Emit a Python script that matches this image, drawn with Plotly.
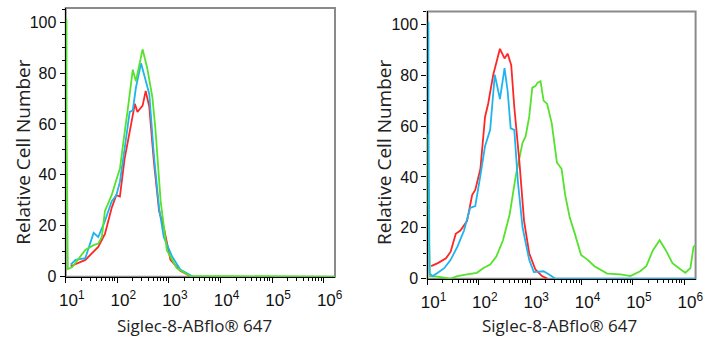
import plotly.graph_objects as go

# ---- data (x as log10 of fluorescence, y = relative cell number) ----
L_red_x = [1.095, 1.38, 1.63, 1.76, 1.89, 1.98, 2.05, 2.14, 2.27, 2.34, 2.39, 2.49, 2.55, 2.62, 2.71, 2.81, 2.90, 3.03, 3.22, 3.41]
L_red_y = [4.1, 6.6, 11.7, 16.8, 27, 32, 31.5, 46.2, 60.2, 67.9, 64.7, 67.2, 73, 66.6, 44.9, 25.8, 19.4, 6.6, 2.3, 0.3]

L_blue_x = [1.095, 1.19, 1.38, 1.54, 1.63, 1.76, 1.89, 1.98, 2.05, 2.14, 2.24, 2.30, 2.36, 2.46, 2.52, 2.62, 2.71, 2.81, 2.90, 3.06, 3.22, 3.47]
L_blue_y = [4.7, 6.6, 7.3, 17.2, 15.6, 21.9, 29.6, 32, 37.2, 50, 64.7, 65.3, 74.2, 83.8, 79.3, 71.7, 47.5, 26.8, 15.6, 8, 2.8, 0]

L_green_x = [1.015, 1.016, 1.04, 1.127, 1.38, 1.54, 1.63, 1.70, 1.76, 1.89, 1.98, 2.05, 2.14, 2.20, 2.30, 2.36, 2.49, 2.58, 2.68, 2.74, 2.84, 2.96, 3.15, 3.41, 6.22]
L_green_y = [101, 60, 3, 3.8, 10.5, 12.4, 13, 15.6, 25.8, 32, 38, 42.4, 56.4, 65.3, 81.3, 76.8, 89.3, 81.9, 70.4, 57.7, 29.6, 10.4, 3.4, 0.3, 0]

R_red_x = [1.07, 1.2, 1.36, 1.45, 1.55, 1.64, 1.77, 1.87, 1.93, 2.03, 2.12, 2.18, 2.28, 2.41, 2.50, 2.56, 2.63, 2.69, 2.79, 2.88, 2.98, 3.10, 3.23, 3.33]
R_red_y = [4.9, 6.1, 8, 10.6, 17.6, 18.9, 22.7, 33, 34.9, 43.2, 63.6, 68.7, 80.2, 90.4, 86.6, 88.5, 84, 67.4, 45.7, 22.7, 10, 3.6, 1, 0]

R_green_x = [1.012, 1.013, 1.045, 1.2, 1.45, 1.58, 1.77, 1.96, 2.09, 2.22, 2.34, 2.47, 2.60, 2.72, 2.85, 2.91, 2.98, 3.04, 3.10, 3.14, 3.20, 3.26, 3.33, 3.42, 3.52, 3.61, 3.68, 3.77, 3.87, 3.99, 4.12, 4.25, 4.50, 4.76, 4.95, 5.14, 5.26, 5.39, 5.52, 5.64, 5.77, 5.93, 6.02, 6.12, 6.18, 6.22]
R_green_y = [57, 30, 1, 0.8, 0, 1, 1.7, 2.3, 4.2, 5.5, 8.7, 15.1, 25.3, 40.6, 53.4, 55.9, 63.6, 75.1, 75.7, 77, 77.7, 70, 68.7, 61, 45.7, 43.2, 33, 24, 17.6, 9.3, 7.4, 4.9, 2, 1.7, 1, 2.9, 4.9, 11.2, 15.1, 11.2, 6.1, 3.6, 2.3, 4.2, 12.5, 13.2]

R_blue_x = [1.018, 1.019, 1.04, 1.1, 1.2, 1.33, 1.45, 1.58, 1.71, 1.83, 1.93, 2.03, 2.12, 2.22, 2.31, 2.41, 2.50, 2.56, 2.62, 2.69, 2.76, 2.85, 2.98, 3.07, 3.26, 3.36, 3.49, 6.22]
R_blue_y = [101, 60, 2, 1, 2.3, 4.2, 7.4, 12.5, 18.9, 27.8, 28.5, 40.6, 52.1, 58.5, 80.2, 70.6, 82.8, 73.8, 59.1, 58.5, 38.1, 20.2, 7.4, 2.6, 2.9, 1.7, 0, 0]

tick_exps = [1, 2, 3, 4, 5, 6]
tick_text = ["10<sup>%d</sup>" % e for e in tick_exps]
y_ticks = [0, 20, 40, 60, 80, 100]

RED = "#ff2626"
BLUE = "#1fb4ee"
GREEN = "#55e22c"

W, H = 717, 350

def lin(v):
    return [10 ** a for a in v]

fig = go.Figure()

def add(x, y, color, xa, ya):
    fig.add_trace(go.Scatter(x=lin(x), y=y, mode="lines",
                             line=dict(color=color, width=1.8, shape="linear", simplify=False),
                             xaxis=xa, yaxis=ya, showlegend=False, hoverinfo="skip", cliponaxis=False))

add(L_red_x, L_red_y, RED, "x", "y")
add(L_blue_x, L_blue_y, BLUE, "x", "y")
add(L_green_x, L_green_y, GREEN, "x", "y")
add(R_green_x, R_green_y, GREEN, "x2", "y2")
add(R_red_x, R_red_y, RED, "x2", "y2")
add(R_blue_x, R_blue_y, BLUE, "x2", "y2")

minor_vals = [m * 10 ** e for e in range(1, 7) for m in range(2, 10)]

def xaxis(dom, anchor):
    return dict(domain=dom, anchor=anchor, type="log", range=[1, 6.22],
                tickvals=[10 ** e for e in tick_exps], ticktext=tick_text,
                ticks="outside", ticklen=5, tickwidth=1.4, tickcolor="black",
                showline=True, linecolor="black", linewidth=1.4, layer="below traces",
                showgrid=False, zeroline=False, ticklabelshift=6, ticklabelstandoff=3,
                tickfont=dict(family="Liberation Sans, Arial", size=17, color="#111"),
                minor=dict(tickvals=minor_vals, ticks="outside", ticklen=3, tickcolor="black", tickwidth=1, showgrid=False))

def yaxis(dom, anchor, top):
    return dict(domain=dom, anchor=anchor, range=[0, top],
                tickvals=y_ticks, ticks="outside", ticklen=5, tickwidth=1.4, tickcolor="black",
                showline=True, linecolor="black", linewidth=1.4, layer="below traces",
                showgrid=False, zeroline=False,
                tickfont=dict(family="Liberation Sans, Arial", size=16, color="#111"),
                minor=dict(dtick=5, ticks="outside", ticklen=3, tickcolor="black", tickwidth=1, showgrid=False))

Lx = [60 / W, 335 / W]
Rx = [429.5 / W, 703.3 / W]
Ly = [1 - 284 / H, 1 - 8.3 / H]
Ry = [1 - 286 / H, 1 - 11.7 / H]

fig.update_layout(
    width=W, height=H, margin=dict(l=0, r=0, t=0, b=0),
    paper_bgcolor="white", plot_bgcolor="white",
    xaxis=xaxis(Lx, "y"), yaxis=yaxis(Ly, "x", 105.5),
    xaxis2=xaxis(Rx, "y2"), yaxis2=yaxis(Ry, "x2", 105.1),
)

# gray frame (top/right)
for xr, yr in (("x domain", "y domain"), ("x2 domain", "y2 domain")):
    fig.add_shape(type="rect", xref=xr, yref=yr, x0=0, x1=1, y0=0, y1=1,
                  line=dict(color="#8a8a8a", width=2), layer="below")

xfont = dict(family="Open Sans, Noto Sans", size=17, color="#222")
yfont = dict(family="Open Sans, Noto Sans", size=19, color="#222")
for cx, tx in ((191, 16), (564, 385)):
    fig.add_annotation(text="Siglec-8-ABflo® 647", xref="paper", yref="paper",
                       x=cx / W, y=1 - 334 / H, showarrow=False, font=xfont,
                       xanchor="center", yanchor="middle")
    fig.add_annotation(text="Relative Cell Number", xref="paper", yref="paper",
                       x=tx / W, y=1 - 156 / H, showarrow=False, font=yfont, textangle=-90,
                       xanchor="center", yanchor="middle")

fig.write_html("out.html")
